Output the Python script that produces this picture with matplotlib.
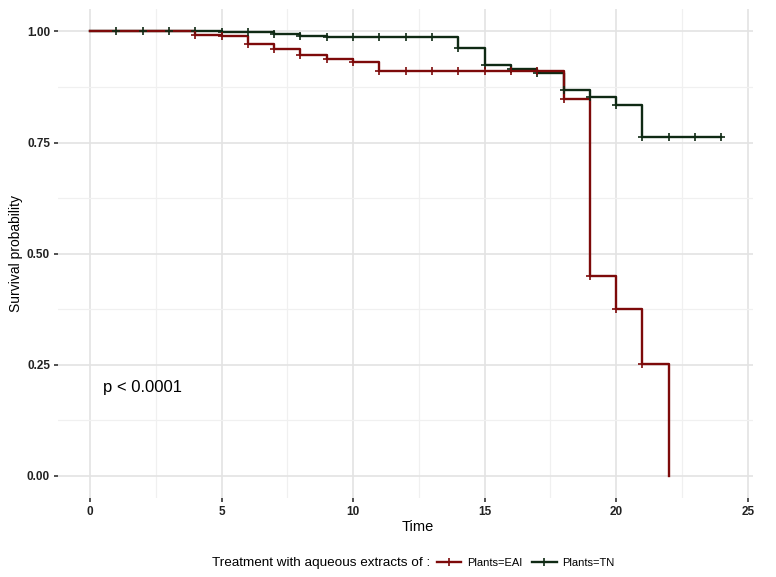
import numpy as np
import matplotlib.pyplot as plt
from matplotlib.lines import Line2D

# Kaplan-Meier steps
eai_time = [0, 4, 5, 6, 7, 8, 9, 10, 11, 18, 19, 20, 21, 22]
eai_surv = [1.0, 0.993, 0.989, 0.972, 0.961, 0.946, 0.939, 0.932, 0.910, 0.849, 0.449, 0.376, 0.251, 0.0]
eai_censor = [4, 5, 6, 7, 8, 9, 10, 11, 12, 13, 14, 15, 16, 17, 18, 19, 20, 21]

tn_time = [0, 5, 7, 8, 9, 14, 15, 16, 17, 18, 19, 20, 21, 24]
tn_surv = [1.0, 0.998, 0.994, 0.990, 0.988, 0.963, 0.925, 0.916, 0.907, 0.869, 0.852, 0.835, 0.762, 0.762]
tn_censor = [1, 2, 3, 4, 5, 6, 7, 8, 9, 10, 11, 12, 13, 14, 15, 16, 17, 18, 19, 20, 21, 22, 23, 24]

x_ticks = [0, 5, 10, 15, 20, 25]
y_ticks = [0.0, 0.25, 0.50, 0.75, 1.00]
y_labels = ['0.00', '0.25', '0.50', '0.75', '1.00']

col_eai = '#7d0a0a'
col_tn = '#0f2a14'

plt.rcParams['font.family'] = ['Liberation Sans', 'DejaVu Sans']

fig = plt.figure(figsize=(7.76, 5.77), dpi=100)
ax = fig.add_axes([0.0753, 0.137, 0.895, 0.847])


def surv_at(times, surv, t):
    idx = np.searchsorted(times, t, side='right') - 1
    return np.asarray(surv)[idx]


for times, surv, cens, col in [(tn_time, tn_surv, tn_censor, col_tn),
                               (eai_time, eai_surv, eai_censor, col_eai)]:
    ax.plot(times, surv, drawstyle='steps-post', color=col, lw=1.7, zorder=3)
    ax.plot(cens, surv_at(times, surv, cens), ls='none', marker='+',
            ms=6, mew=1.2, color=col, zorder=4)

ax.text(0.5, 0.198, 'p < 0.0001', fontsize=12, ha='left', va='center')

ax.set_xlim(-1.2, 25.2)
ax.set_ylim(-0.05, 1.05)
ax.set_xticks(x_ticks)
ax.set_yticks(y_ticks)
ax.set_yticklabels(y_labels)
ax.set_xticks([2.5, 7.5, 12.5, 17.5, 22.5], minor=True)
ax.set_yticks([0.125, 0.375, 0.625, 0.875], minor=True)
ax.grid(which='major', color='#e3e3e3', lw=1.2)
ax.grid(which='minor', color='#f0f0f0', lw=0.9)
ax.set_axisbelow(True)
for s in ax.spines.values():
    s.set_visible(False)
ax.tick_params(which='major', length=3, width=1.2, color='#333333',
               labelsize=8.5, labelcolor='#222222', pad=3)
ax.tick_params(which='minor', length=0)
for lab in ax.get_xticklabels() + ax.get_yticklabels():
    lab.set_fontweight('bold')

ax.set_xlabel('Time', fontsize=10.5)
ax.xaxis.set_label_coords(0.518, -0.046)
ax.set_ylabel('Survival probability', fontsize=10, labelpad=3)

fig.text(212 / 776, 1 - 563 / 577, 'Treatment with aqueous extracts of :',
         fontsize=9.7, ha='left', va='center')
handles = [Line2D([], [], color=col_eai, lw=1.7, marker='+', ms=6, mew=1.2),
           Line2D([], [], color=col_tn, lw=1.7, marker='+', ms=6, mew=1.2)]
fig.legend(handles, ['Plants=EAI', 'Plants=TN'], loc='center left',
           bbox_to_anchor=(437 / 776, 1 - 563 / 577), ncol=2, frameon=False,
           fontsize=8, handlelength=2.2, handletextpad=0.5, columnspacing=0.9,
           borderpad=0, borderaxespad=0)

fig.savefig('out.png', dpi=100)
